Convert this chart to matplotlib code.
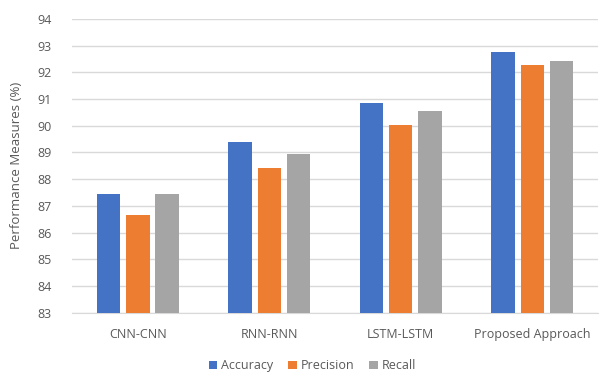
import numpy as np
import matplotlib.pyplot as plt

plt.rcParams['font.family'] = ['Open Sans', 'DejaVu Sans']

# model pairs and their scores (%)
models = ['CNN-CNN', 'RNN-RNN', 'LSTM-LSTM', 'Proposed Approach']
accuracy = [87.45, 89.4, 90.85, 92.75]
precision = [86.65, 88.42, 90.03, 92.28]
recall = [87.45, 88.95, 90.55, 92.42]

series = [('Accuracy', accuracy, '#4472C4'),
          ('Precision', precision, '#ED7D31'),
          ('Recall', recall, '#A5A5A5')]

fig = plt.figure(figsize=(6.01, 3.76), dpi=100)
ax = fig.add_axes([0.12, 0.168, 0.875, 0.782])

x = np.arange(len(models))
width = 0.178
step = 0.223
for i, (name, vals, col) in enumerate(series):
    ax.bar(x + (i - 1) * step, np.array(vals) - 83, width, bottom=83,
           color=col, label=name, zorder=3)

ax.set_xlim(-0.5, len(models) - 0.5)
ax.set_ylim(83, 94)
ax.set_yticks(range(83, 95))
ax.set_xticks(x)
ax.set_xticklabels(models)
ax.tick_params(axis='both', length=0, labelsize=9, colors='#595959')
ax.tick_params(axis='x', pad=11)
ax.tick_params(axis='y', pad=15)
ax.grid(axis='y', color='#D9D9D9', linewidth=1, zorder=0)
for s in ['top', 'right', 'left']:
    ax.spines[s].set_visible(False)
ax.spines['bottom'].set_color('#D9D9D9')
ax.set_ylabel('Performance Measures (%)', fontsize=9.5, color='#595959', labelpad=10)

fig.legend(loc='lower center', bbox_to_anchor=(0.52, -0.02), ncol=3, frameon=False,
           fontsize=9, handlelength=0.7, handleheight=0.7, handletextpad=0.3,
           columnspacing=1.2, labelcolor='#595959')

fig.savefig('out.png', dpi=100)
